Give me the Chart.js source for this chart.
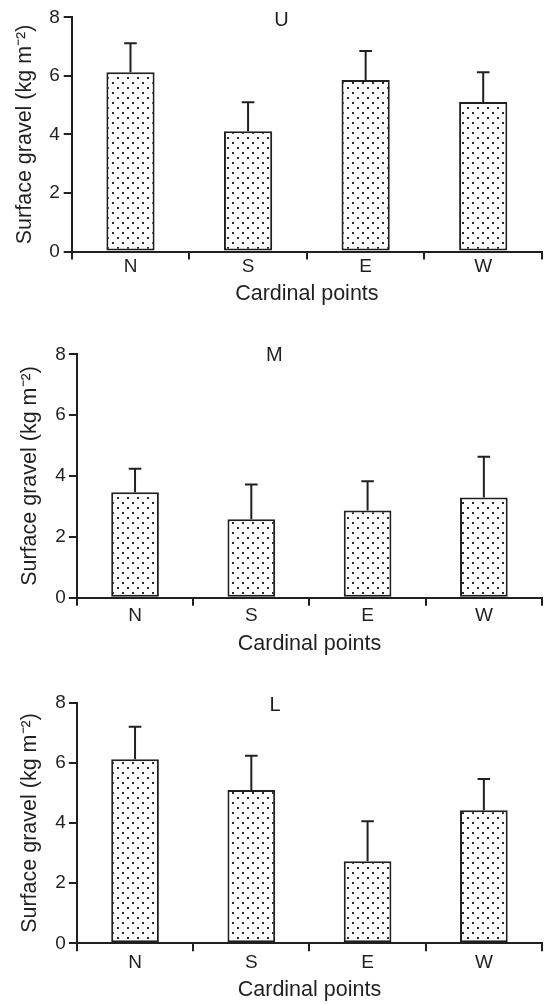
<!DOCTYPE html>
<html><head><meta charset="utf-8">
<script src="https://cdn.jsdelivr.net/npm/chart.js@4/dist/chart.umd.min.js"></script>
<style>
html,body{margin:0;padding:0;background:#fff;width:547px;height:1004px;overflow:hidden}
canvas{position:absolute;left:0}
</style></head><body>
<canvas id="c1" width="547" height="320" style="top:0px"></canvas>
<canvas id="c2" width="547" height="340" style="top:320px"></canvas>
<canvas id="c3" width="547" height="344" style="top:660px"></canvas>
<script>
// ---- data ----
const categories = ['N', 'S', 'E', 'W'];
const yTicks = [0, 2, 4, 6, 8];
const panelNames = ['U', 'M', 'L'];
const meanU = [6.12, 4.11, 5.86, 5.11];
const errU  = [0.99, 0.99, 0.99, 1.01];
const meanM = [3.47, 2.58, 2.87, 3.29];
const errM  = [0.77, 1.14, 0.96, 1.34];
const meanL = [6.12, 5.10, 2.73, 4.42];
const errL  = [1.08, 1.14, 1.33, 1.04];
const yTitle = 'Surface gravel (kg m\u207B\u00B2)';
const xTitle = 'Cardinal points';

// ---- styling / layout ----
const INK = '#231f20';
const FONT = "'Liberation Sans', Arial, Helvetica, sans-serif";
const layouts = [
  {pad:{left:20.8,right:5,top:0,bottom:0}, tT:8.3,  tB:-15.0, yW:50.9, yTP:-8.7, yTickPad:4, xH:68.5, xTickPad:-4.6, xTP:12.9},
  {pad:{left:6.8, right:5,top:0,bottom:0}, tT:23.5, tB:-13.2, yW:70.1, yTP:10.3, yTickPad:3, xH:62.3, xTickPad:-1.1, xTP:3.1},
  {pad:{left:8.2, right:5,top:0,bottom:0}, tT:33.2, tB:-14.5, yW:68.7, yTP:8.9,  yTickPad:3, xH:60.7, xTickPad:0.3,  xTP:0.6}
];

function dotPattern() {
  const c = document.createElement('canvas');
  c.width = 10; c.height = 10;
  const g = c.getContext('2d');
  g.fillStyle = '#ffffff'; g.fillRect(0, 0, 10, 10);
  g.fillStyle = '#2a2a2a';
  g.fillRect(2, 2, 2, 2);
  g.fillRect(7, 7, 2, 2);
  return g.createPattern(c, 'repeat');
}

const errorBars = {
  id: 'errorBars',
  afterDatasetsDraw(chart) {
    const ctx = chart.ctx, ys = chart.scales.y;
    const ds = chart.data.datasets[0];
    const meta = chart.getDatasetMeta(0);
    ctx.save();
    ctx.strokeStyle = INK; ctx.lineWidth = 2;
    meta.data.forEach((bar, i) => {
      const v = ds.data[i], e = ds.errors[i];
      const yTop = ys.getPixelForValue(v + e);
      const yBar = ys.getPixelForValue(v);
      ctx.beginPath();
      ctx.moveTo(bar.x, yBar); ctx.lineTo(bar.x, yTop);
      ctx.moveTo(bar.x - 6.3, yTop); ctx.lineTo(bar.x + 6.3, yTop);
      ctx.stroke();
    });
    ctx.restore();
  }
};

function makeChart(id, name, means, errs, L) {
  const pattern = dotPattern();
  return new Chart(document.getElementById(id), {
    type: 'bar',
    data: {
      labels: categories,
      datasets: [{
        data: means, errors: errs,
        backgroundColor: pattern, borderColor: INK, borderWidth: 2, borderSkipped: false,
        barPercentage: 0.41, categoryPercentage: 1
      }]
    },
    options: {
      responsive: false, animation: false, devicePixelRatio: 1,
      layout: {padding: L.pad},
      plugins: {
        legend: {display: false}, tooltip: {enabled: false},
        title: {display: true, text: name, color: INK,
                font: {family: FONT, size: 20, weight: 'normal', lineHeight: 1.2},
                padding: {top: L.tT, bottom: L.tB}}
      },
      scales: {
        x: {
          offset: true,
          grid: {display: true, drawOnChartArea: false, drawTicks: true, tickLength: 8, color: INK, lineWidth: 2, offset: true},
          border: {display: true, color: INK, width: 2},
          ticks: {color: INK, padding: L.xTickPad, font: {family: FONT, size: 19, lineHeight: 1.2}},
          title: {display: true, text: xTitle, color: INK, font: {family: FONT, size: 21.5, lineHeight: 1.2}, padding: {top: 0, bottom: L.xTP}},
          afterFit(s) { s.height = L.xH; }
        },
        y: {
          min: 0, max: 8,
          afterBuildTicks(s) { s.ticks = yTicks.map(v => ({value: v})); },
          grid: {display: true, drawOnChartArea: false, drawTicks: true, tickLength: 8, color: INK, lineWidth: 2},
          border: {display: true, color: INK, width: 2},
          ticks: {color: INK, padding: L.yTickPad, font: {family: FONT, size: 19, lineHeight: 1.2}},
          title: {display: true, text: yTitle, color: INK, font: {family: FONT, size: 21.5, lineHeight: 1.2}, padding: {top: L.yTP, bottom: 0}},
          afterFit(s) { s.width = L.yW; }
        }
      }
    },
    plugins: [errorBars]
  });
}

makeChart('c1', panelNames[0], meanU, errU, layouts[0]);
makeChart('c2', panelNames[1], meanM, errM, layouts[1]);
makeChart('c3', panelNames[2], meanL, errL, layouts[2]);
</script>
</body></html>
